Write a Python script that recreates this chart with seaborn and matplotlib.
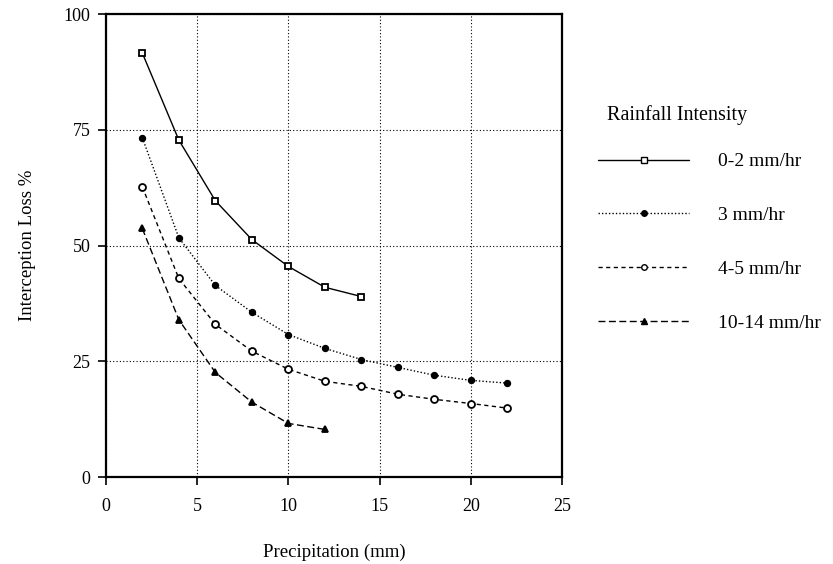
import numpy as np
import pandas as pd
import matplotlib.pyplot as plt
import seaborn as sns

# data
precip_02 = [2, 4, 6, 8, 10, 12, 14]
loss_02 = [91.6, 72.8, 59.7, 51.3, 45.5, 41.0, 39.0]

precip_3 = [2, 4, 6, 8, 10, 12, 14, 16, 18, 20, 22]
loss_3 = [73.3, 51.7, 41.4, 35.6, 30.8, 27.8, 25.4, 23.7, 22.0, 20.9, 20.3]

precip_45 = [2, 4, 6, 8, 10, 12, 14, 16, 18, 20, 22]
loss_45 = [62.7, 42.9, 33.0, 27.2, 23.3, 20.7, 19.6, 17.9, 16.8, 15.9, 14.9]

precip_1014 = [2, 4, 6, 8, 10, 12]
loss_1014 = [53.7, 34.0, 22.6, 16.2, 11.6, 10.3]

labels = ["0-2 mm/hr", "3 mm/hr", "4-5 mm/hr", "10-14 mm/hr"]
x_ticks = [0, 5, 10, 15, 20, 25]
y_ticks = [0, 25, 50, 75, 100]

frames = []
for lab, xs, ys in zip(labels,
                       [precip_02, precip_3, precip_45, precip_1014],
                       [loss_02, loss_3, loss_45, loss_1014]):
    frames.append(pd.DataFrame({"precip": xs, "loss": ys, "intensity": lab}))
df = pd.concat(frames, ignore_index=True)

sns.set_theme(style="ticks")
plt.rcParams["font.family"] = ["Liberation Serif", "DejaVu Serif"]
plt.rcParams["text.color"] = "black"
plt.rcParams["axes.labelcolor"] = "black"

fig = plt.figure(figsize=(8.33, 5.64), dpi=100)
ax = fig.add_axes([0.127, 0.154, 0.548, 0.821])

dashes = {
    labels[0]: "",
    labels[1]: (1, 1.5),
    labels[2]: (3, 2.5),
    labels[3]: (5, 2.5),
}
markers = {labels[0]: "s", labels[1]: "o", labels[2]: "o", labels[3]: "^"}
palette = {lab: "black" for lab in labels}

sns.lineplot(data=df, x="precip", y="loss", hue="intensity", style="intensity",
             hue_order=labels, style_order=labels, palette=palette,
             dashes=dashes, markers=markers, markersize=5, linewidth=1.0,
             ax=ax, legend=False)

# marker faces: open square / open circle
fills = ["white", "black", "white", "black"]
for line, fc in zip(ax.get_lines(), fills):
    line.set_markerfacecolor(fc)
    line.set_markeredgecolor("black")
    line.set_markeredgewidth(1.3)
ax.get_lines()[1].set_markersize(4)

ax.set_xlim(0, 25)
ax.set_ylim(0, 100)
ax.set_xticks(x_ticks)
ax.set_yticks(y_ticks)
ax.tick_params(direction="out", length=6, width=1.2, labelsize=13, colors="black")
ax.tick_params(axis="x", pad=9)
ax.tick_params(axis="y", pad=5)
for s in ax.spines.values():
    s.set_linewidth(1.6)
    s.set_color("black")
ax.grid(True, linestyle=(0, (1, 2)), color="black", linewidth=0.8)

ax.set_xlabel("Precipitation (mm)", fontsize=13.5, labelpad=21)
ax.set_ylabel("Interception Loss %", fontsize=13.5, labelpad=20)

handles = []
for lab, fc in zip(labels, fills):
    h, = ax.plot([], [], color="black", linewidth=1.0, marker=markers[lab],
                 markersize=4, markerfacecolor=fc, markeredgecolor="black",
                 dashes=dashes[lab] if dashes[lab] else (None, None))
    handles.append(h)
fig.legend(handles, labels, loc="upper left",
           bbox_to_anchor=(0.697, 0.760), frameon=False, fontsize=14,
           handlelength=4.7, handletextpad=1.45,
           labelspacing=1.86, markerfirst=True)
fig.text(607 / 833, 1 - 115 / 564, "Rainfall Intensity", fontsize=14.5,
         ha="left", va="center")

fig.savefig("out.png", dpi=100)
